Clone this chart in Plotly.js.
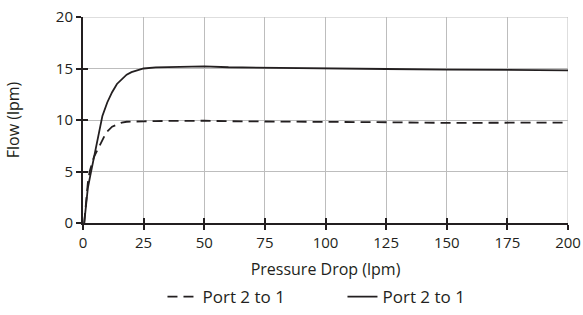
<!DOCTYPE html>
<html><head><meta charset="utf-8">
<script src="https://cdn.plot.ly/plotly-3.0.1.min.js"></script>
<style>html,body{margin:0;padding:0;background:#fff}</style>
</head><body><div id="chart" style="width:583px;height:315px"></div>
<script>
const dashedX = [0.5, 1, 1.5, 2, 2.75, 3.5, 4.5, 6.2, 8, 9.6, 12, 13.7, 16, 18, 20, 25, 30, 40, 50, 60, 75, 100, 125, 150, 175, 200];
const dashedY = [0, 1.3, 2.6, 3.9, 5, 5.7, 6.4, 7.2, 8.1, 8.8, 9.35, 9.55, 9.75, 9.83, 9.86, 9.87, 9.9, 9.93, 9.93, 9.88, 9.84, 9.8, 9.78, 9.72, 9.7, 9.75];
const solidX = [0.5, 1, 1.5, 2, 3, 3.5, 4, 5, 6, 7, 8, 10, 12, 14, 16, 18, 20, 22.5, 25, 30, 40, 45, 50, 60, 75, 100, 125, 150, 175, 200];
const solidY = [0, 1.2, 2.4, 3.4, 4.6, 5.2, 5.8, 7.0, 8.3, 9.5, 10.4, 11.7, 12.7, 13.5, 14.0, 14.4, 14.65, 14.85, 15.0, 15.1, 15.18, 15.22, 15.2, 15.12, 15.07, 15.0, 14.95, 14.9, 14.87, 14.82];
const seriesNames = ["Port 2 to 1", "Port 2 to 1"];
const xTicks = [0, 25, 50, 75, 100, 125, 150, 175, 200];
const yTicks = [0, 5, 10, 15, 20];

const tickFont = {family: "Open Sans, Lato, sans-serif", size: 15, color: "#231f20"};
const titleFont = {family: "Open Sans, Lato, sans-serif", size: 16, color: "#231f20"};
const legendFont = {family: "Open Sans, Lato, sans-serif", size: 17, color: "#231f20"};
const traces = [
  {x: dashedX, y: dashedY, name: seriesNames[0], mode: "lines", line: {color: "#231f20", width: 1.8, dash: "10px,6px"}},
  {x: solidX, y: solidY, name: seriesNames[1], mode: "lines", line: {color: "#231f20", width: 1.8}},
  {x: [0], y: [0], xaxis: "x2", yaxis: "y2", mode: "markers", marker: {opacity: 0}, showlegend: false, hoverinfo: "skip"}
];
const layout = {
  width: 583, height: 315,
  margin: {l: 83, r: 15, t: 17, b: 92, autoexpand: false},
  paper_bgcolor: "#fff", plot_bgcolor: "#fff",
  font: tickFont,
  showlegend: true,
  legend: {orientation: "h", x: 0.535, xanchor: "center", y: -0.36, yanchor: "middle", font: legendFont, entrywidth: 135, entrywidthmode: "pixels"},
  xaxis: {range: [0, 200], tickvals: xTicks, ticktext: xTicks.map(String), showgrid: true, gridcolor: "#bdbdbd", gridwidth: 1,
          showline: true, linecolor: "#231f20", linewidth: 2, ticks: "outside", ticklen: 5, tickwidth: 2, tickcolor: "#231f20",
          zeroline: false, title: {text: "Pressure Drop (lpm)", font: titleFont, standoff: 13}, tickfont: tickFont, fixedrange: true},
  yaxis: {range: [0, 20], tickvals: yTicks, ticktext: yTicks.map(String), showgrid: true, gridcolor: "#bdbdbd", gridwidth: 1,
          showline: true, linecolor: "#231f20", linewidth: 2, ticks: "outside", ticklen: 5, tickwidth: 2, tickcolor: "#231f20",
          zeroline: false, title: {text: "Flow (lpm)", font: titleFont, standoff: 32}, tickfont: tickFont, fixedrange: true},
  xaxis2: {overlaying: "x", range: [0, 200], tickvals: xTicks, showticklabels: false, showgrid: false, zeroline: false,
           ticks: "inside", ticklen: 5, tickwidth: 2, tickcolor: "#231f20", showline: false, anchor: "y2", side: "bottom"},
  yaxis2: {overlaying: "y", range: [0, 20], tickvals: yTicks, showticklabels: false, showgrid: false, zeroline: false,
           ticks: "inside", ticklen: 5, tickwidth: 2, tickcolor: "#231f20", showline: false, anchor: "x2", side: "left"},
  shapes: [
    {type: "line", xref: "x", yref: "paper", x0: 200, x1: 200, y0: 0, y1: 1, line: {color: "#bdbdbd", width: 1}, layer: "below"},
    {type: "line", xref: "paper", yref: "y", x0: 0, x1: 1, y0: 20, y1: 20, line: {color: "#bdbdbd", width: 1}, layer: "below"}
  ]
};
Plotly.newPlot("chart", traces, layout, {displayModeBar: false, staticPlot: true});
</script></body></html>
